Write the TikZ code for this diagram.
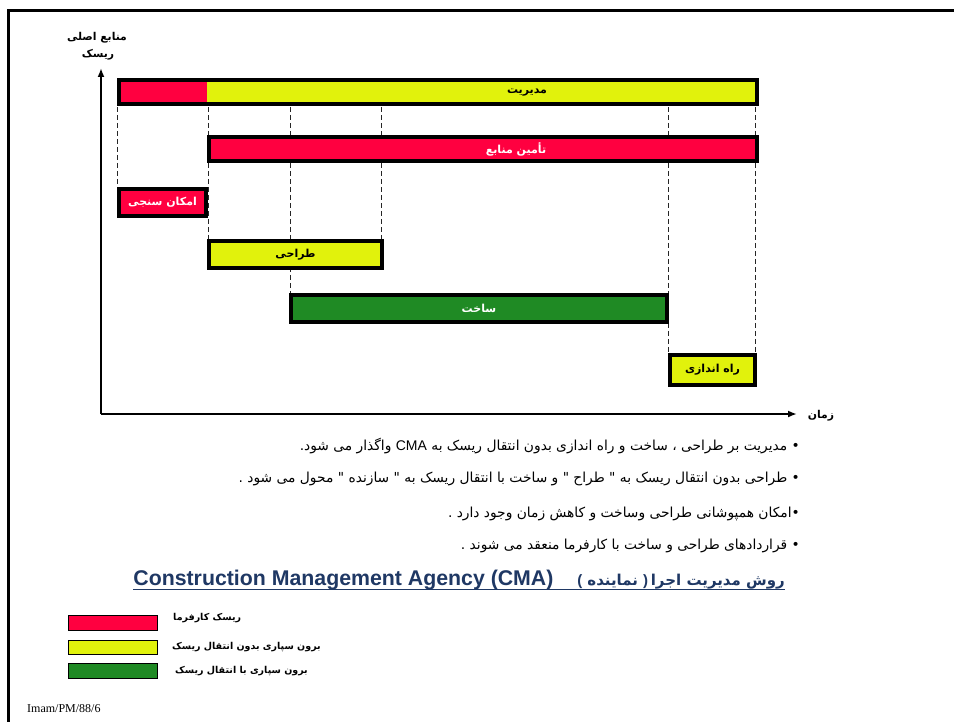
\documentclass[tikz,border=0pt]{standalone}
\usepackage{fontspec}
\usetikzlibrary{arrows.meta}
\setmainfont{Liberation Sans}
\newfontfamily\ar[Script=Arabic]{DejaVu Sans}
\newfontfamily\la{Liberation Sans}
\newfontfamily\tnr{Liberation Serif}
\TeXXeTstate=1
\definecolor{cred}{HTML}{FF0040}
\definecolor{cyel}{HTML}{E1F20C}
\definecolor{cgrn}{HTML}{1F8A24}
\definecolor{cblue}{HTML}{1F3864}
\newcommand{\fs}[1]{\fontsize{#1}{#1}\selectfont}
\begin{document}
\begin{tikzpicture}[x=1pt,y=-1pt,
  bar/.style={draw=black,line width=3.5pt,inner sep=0pt},
  barlab/.style={font=\ar\bfseries\fs{11},inner sep=0pt},
  guide/.style={draw=black!85,line width=0.8pt,dash pattern=on 5pt off 3pt},
  axis/.style={draw=black,line width=1.8pt,-{Latex[length=9pt,width=7pt]}},
  bullet/.style={font=\ar\fs{13.8},anchor=east,inner sep=0pt},
  leg/.style={draw=black,line width=0.8pt},
  legtext/.style={font=\ar\bfseries\fs{9.5},anchor=west,inner sep=0pt}]
\useasboundingbox (0,0) rectangle (954,722);
% frame
\draw[line width=3pt] (8,722) -- (8,11) -- (954,11);
% axes
\coordinate (o) at (101,414);
\coordinate (ytip) at (101,68);
\coordinate (xtip) at (797,414);
\draw[axis] (o) -- (ytip);
\draw[axis] (o) -- (xtip);
\node[font=\ar\bfseries\fs{10.8},inner sep=0pt] (ylab1) at (97,38) {\beginR منابع اصلی\endR};
\node[font=\ar\bfseries\fs{10.8},inner sep=0pt] (ylab2) at (98,55) {\beginR ریسک\endR};
\node[font=\ar\bfseries\fs{10.8},inner sep=0pt] (xlab) at (821,416) {\beginR زمان\endR};
% guides
\coordinate (g1a) at (117,107); \coordinate (g1b) at (117,187);
\draw[guide] (g1a) -- (g1b);
\coordinate (g2a) at (208,107); \coordinate (g2b) at (208,239);
\draw[guide] (g2a) -- (g2b);
\coordinate (g3a) at (290,107); \coordinate (g3b) at (290,293);
\draw[guide] (g3a) -- (g3b);
\coordinate (g4a) at (381,107); \coordinate (g4b) at (381,239);
\draw[guide] (g4a) -- (g4b);
\coordinate (g5a) at (668,107); \coordinate (g5b) at (668,354);
\draw[guide] (g5a) -- (g5b);
\coordinate (g6a) at (755,107); \coordinate (g6b) at (755,354);
\draw[guide] (g6a) -- (g6b);
% management bar
\coordinate (m1) at (119,80); \coordinate (m2) at (757,104);
\fill[cyel] (m1) rectangle (m2);
\fill[cred] (m1) rectangle (207,104);
\draw[line width=3.5pt] (m1) rectangle (m2);
\node[barlab] (mgmt) at (527,93) {\beginR مدیریت\endR};
% tamin
\node[bar,fill=cred,minimum width=548pt,minimum height=24pt] (tamin) at (483,149) {};
\node[barlab,text=white] (taminlab) at (516,149) {\beginR تأمین منابع\endR};
% feasibility
\node[bar,fill=cred,text=white,minimum width=87pt,minimum height=27pt,font=\ar\bfseries\fs{11}] (feas) at (162.5,202.5) {\beginR امکان سنجی\endR};
% design
\node[bar,fill=cyel,minimum width=173pt,minimum height=27pt,font=\ar\bfseries\fs{11}] (design) at (295.5,254.5) {\beginR طراحی\endR};
% construction
\node[bar,fill=cgrn,text=white,minimum width=376pt,minimum height=27pt,font=\ar\bfseries\fs{11}] (constr) at (479,308.5) {\beginR ساخت\endR};
% start-up
\node[bar,fill=cyel,minimum width=85pt,minimum height=30pt,font=\ar\bfseries\fs{11}] (startup) at (712.5,370) {\beginR راه اندازی\endR};
% bullets
\node[bullet] (b1) at (800,446) {\beginR • مدیریت بر طراحی ، ساخت و راه اندازی  بدون انتقال ریسک به {\la\fs{14}\beginL CMA\endL} واگذار می شود.\endR};
\node[bullet] (b2) at (800,479) {\beginR • طراحی بدون انتقال ریسک به " طراح " و ساخت با انتقال ریسک به " سازنده " محول می شود .\endR};
\node[bullet] (b3) at (800,514) {\beginR •امکان همپوشانی طراحی وساخت و کاهش زمان وجود دارد .\endR};
\node[bullet] (b4) at (800,546) {\beginR • قراردادهای طراحی و ساخت با کارفرما منعقد می شوند .\endR};
% title
\node[anchor=base east,inner sep=0pt,text=cblue] (title) at (785,585) {{\la\bfseries\fs{21.3}Construction Management Agency (CMA)}\hspace{24pt}{\la\bfseries\fs{15}(\hspace{5pt}}{\ar\bfseries\fs{15}\beginR نماینده\endR}{\la\bfseries\fs{15}\hspace{5pt})} {\ar\bfseries\fs{15}\beginR روش مدیریت اجرا\endR}};
\draw[cblue,line width=1.6pt] ([yshift=-4.5pt]title.base west) -- ([yshift=-4.5pt]title.base east);
% legend
\node[leg,fill=cred,minimum width=89pt,minimum height=15pt,inner sep=0pt] (lr) at (113,622.5) {};
\node[leg,fill=cyel,minimum width=89pt,minimum height=14pt,inner sep=0pt] (ly) at (113,647) {};
\node[leg,fill=cgrn,minimum width=89pt,minimum height=15pt,inner sep=0pt] (lg) at (113,671) {};
\node[legtext] (lrt) at (173,618) {\beginR ریسک کارفرما\endR};
\node[legtext] (lyt) at (172,647) {\beginR برون سپاری بدون انتقال ریسک\endR};
\node[legtext] (lgt) at (175,671) {\beginR برون سپاری با انتقال ریسک\endR};
\node[font=\tnr\fs{12},anchor=west,inner sep=0pt] (foot) at (27,709) {Imam/PM/88/6};
\end{tikzpicture}
\end{document}
